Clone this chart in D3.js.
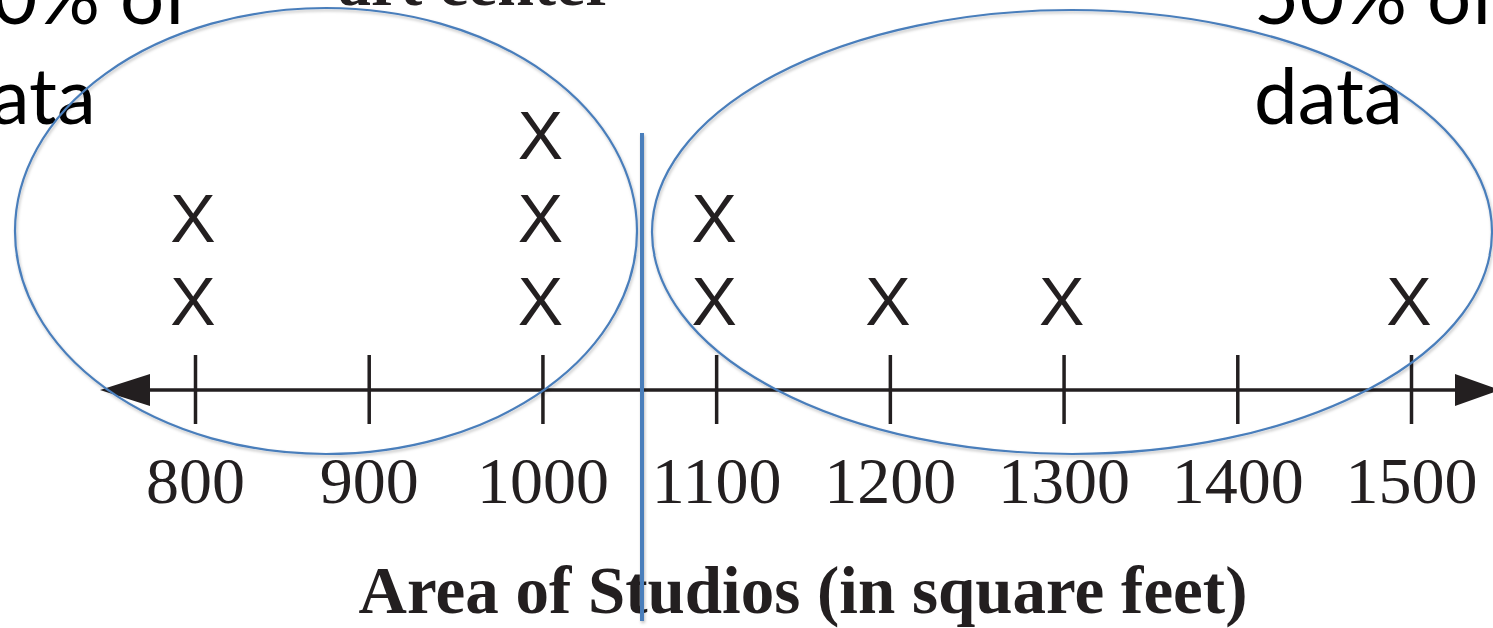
<!DOCTYPE html>
<html>
<head>
<meta charset="utf-8">
<script src="https://cdn.jsdelivr.net/npm/d3@7"></script>
<style>
  html, body { margin: 0; padding: 0; background: #fff; overflow: hidden; }
</style>
</head>
<body>
<svg id="chart"></svg>
<script>
let size = {width: 1493, height: 628};

// data
const areas = [800, 800, 1000, 1000, 1000, 1100, 1100, 1200, 1300, 1500];
const tickValues = [800, 900, 1000, 1100, 1200, 1300, 1400, 1500];
const axisTitle = 'Area of Studios (in square feet)';
const leftNote = ['50% of', 'data'];
const rightNote = ['50% of', 'data'];
const topCut = 'art center';

const ink = '#231f20';
const blue = '#4a7ebb';

const svg = d3.select('#chart')
    .attr('width', size.width)
    .attr('height', size.height);

const defs = svg.append('defs');
const shadow = defs.append('filter').attr('id', 'shade')
    .attr('x', '-5%').attr('y', '-5%').attr('width', '110%').attr('height', '115%');
shadow.append('feDropShadow')
    .attr('dx', 1).attr('dy', 2).attr('stdDeviation', 1.5)
    .attr('flood-color', '#000').attr('flood-opacity', 0.25);

const xScale = d3.scaleLinear()
    .domain([800, 1500])
    .range([195, 1411]);

// stack level -> y
const yScale = d3.scaleLinear()
    .domain([1, 3])
    .range([301, 135]);

const axisY = 390;

// cut-off text at top
svg.append('text')
    .attr('x', 338)
    .attr('y', 5)
    .attr('font-family', '"Liberation Serif", "Times New Roman", serif')
    .attr('font-weight', 'bold')
    .attr('font-size', 66)
    .attr('fill', ink)
    .text(topCut);

// number line
const lineG = svg.append('g');
lineG.append('line')
    .attr('x1', 130).attr('x2', 1470)
    .attr('y1', axisY).attr('y2', axisY)
    .attr('stroke', ink)
    .attr('stroke-width', 3.5);

const arrow = (tipX, baseX) => `M${tipX},${axisY} L${baseX},${axisY - 16} L${baseX},${axisY + 16} Z`;
lineG.append('path').attr('d', arrow(100, 150)).attr('fill', ink);
lineG.append('path').attr('d', arrow(1500, 1455)).attr('fill', ink);

const xAxis = d3.axisBottom(xScale)
    .tickValues(tickValues)
    .tickSize(69)
    .tickFormat(d3.format('d'));

const axisG = svg.append('g')
    .attr('transform', `translate(0, ${axisY - 35})`)
    .call(xAxis);

axisG.select('.domain').remove();
axisG.selectAll('.tick line')
    .attr('stroke', ink)
    .attr('stroke-width', 3.5);
axisG.selectAll('.tick text')
    .attr('y', 148)
    .attr('dy', 0)
    .attr('fill', ink)
    .attr('font-family', '"Liberation Serif", "Times New Roman", serif')
    .attr('font-size', 66);

// axis title
svg.append('text')
    .attr('x', 803)
    .attr('y', 613)
    .attr('text-anchor', 'middle')
    .attr('font-family', '"Liberation Serif", "Times New Roman", serif')
    .attr('font-weight', 'bold')
    .attr('font-size', 67)
    .attr('fill', ink)
    .text(axisTitle);

// stacked X marks
const counts = {};
const marks = areas.map(v => {
    counts[v] = (counts[v] || 0) + 1;
    return {value: v, level: counts[v]};
});

svg.append('g')
    .selectAll('text')
    .data(marks)
    .join('text')
    .attr('x', d => xScale(d.value) - 2)
    .attr('y', d => yScale(d.level))
    .attr('dy', '0.36em')
    .attr('text-anchor', 'middle')
    .attr('font-family', '"Liberation Sans", Arial, sans-serif')
    .attr('font-size', 68)
    .attr('fill', ink)
    .text('X');

// notes
const noteFont = 'Lato, "Open Sans", sans-serif';
const addNote = (lines, x) => {
    svg.append('text')
        .attr('font-family', noteFont)
        .attr('font-size', 78)
        .attr('fill', '#000')
        .selectAll('tspan')
        .data(lines)
        .join('tspan')
        .attr('x', x)
        .attr('y', (d, i) => 24 + i * 100)
        .text(d => d);
};
addNote(leftNote, -53);
addNote(rightNote, 1254);

// ellipses and divider
const shapes = svg.append('g').attr('filter', 'url(#shade)');
shapes.append('ellipse')
    .attr('cx', 326).attr('cy', 231)
    .attr('rx', 311).attr('ry', 223)
    .attr('fill', 'none')
    .attr('stroke', blue)
    .attr('stroke-width', 2.2);
shapes.append('ellipse')
    .attr('cx', 1072).attr('cy', 232)
    .attr('rx', 420).attr('ry', 222)
    .attr('fill', 'none')
    .attr('stroke', blue)
    .attr('stroke-width', 2.2);
shapes.append('line')
    .attr('x1', 642).attr('x2', 642)
    .attr('y1', 133).attr('y2', 621)
    .attr('stroke', blue)
    .attr('stroke-width', 4);
</script>
</body>
</html>
